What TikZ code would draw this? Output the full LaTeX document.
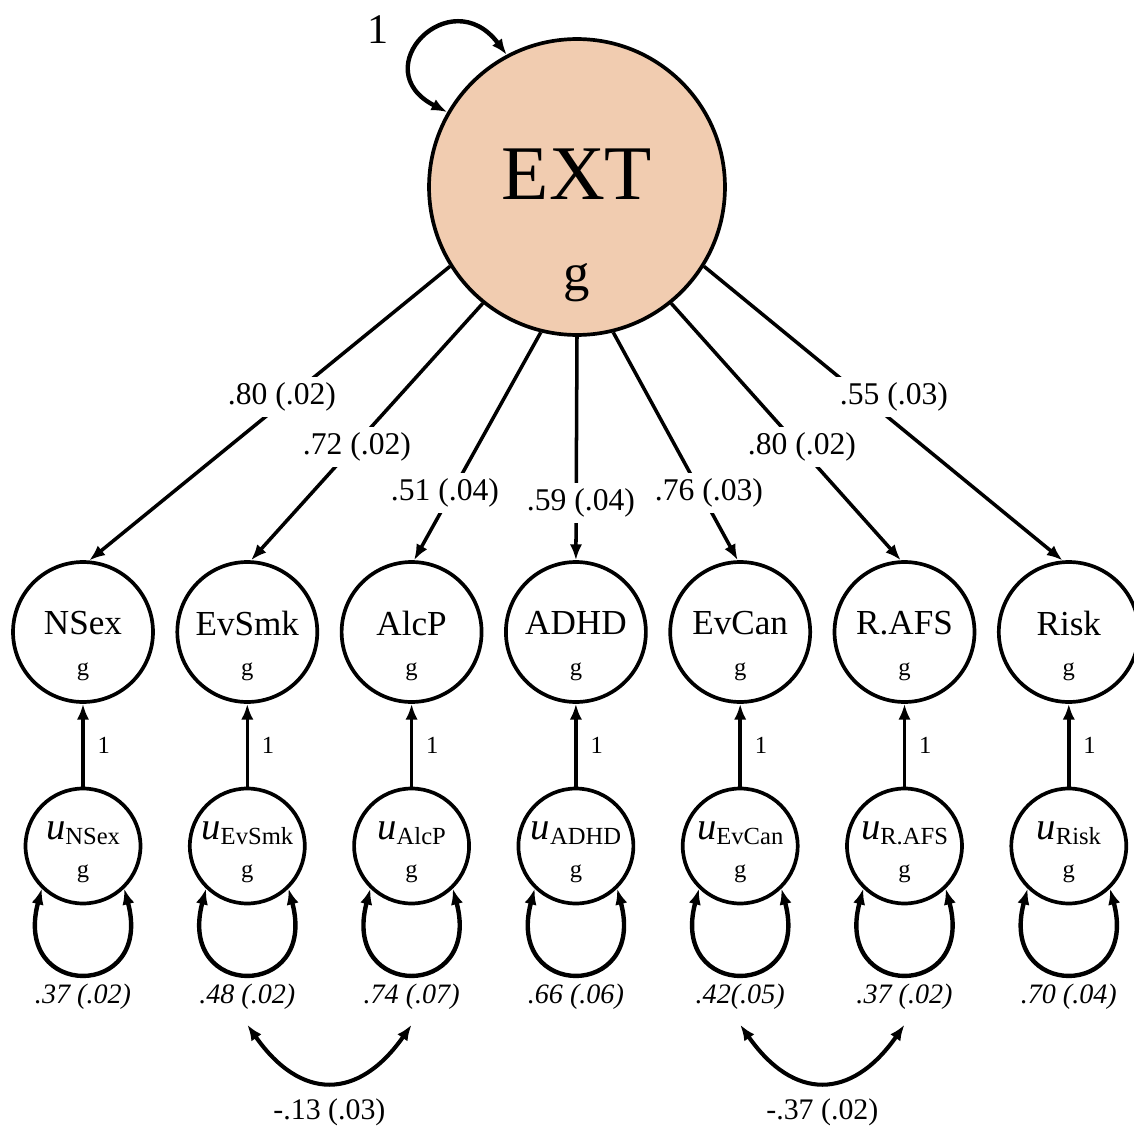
\documentclass[tikz,border=0pt]{standalone}
\usepackage{fontspec}
\setmainfont{Liberation Serif}
\usetikzlibrary{arrows.meta,calc}
\definecolor{extfill}{RGB}{241,204,176}
\newcommand{\fs}[1]{\fontsize{#1}{#1}\selectfont}
\newcommand{\resid}[1]{{\fs{22}\itshape u}{\fs{14}\raisebox{-3pt}{#1}}}

\begin{document}
\begin{tikzpicture}[x=0.02cm,y=0.02cm,
  latent/.style={circle,draw,line width=2.1pt,fill=extfill,minimum size=5.92cm,inner sep=0pt},
  obs/.style={circle,draw,line width=2.1pt,minimum size=2.8cm,inner sep=0pt},
  res/.style={circle,draw,line width=2.1pt,minimum size=2.3cm,inner sep=0pt},
  load/.style={line width=2pt,-{Latex[length=9pt,width=7pt]}},
  varloop/.style={line width=2.5pt,{Latex[length=9pt,width=7pt]}-{Latex[length=9pt,width=7pt]}},
  cov/.style={line width=2.3pt,{Latex[length=9pt,width=7pt]}-{Latex[length=9pt,width=7pt]}},
  loadlab/.style={fill=white,inner sep=3pt,font=\fs{18}},
  varlab/.style={font=\fs{16}\itshape}]
  \useasboundingbox (0,0) rectangle (1134,-1129);
  \fill[white] (0,0) rectangle (1134,-1129);

  \node[latent] (EXT) at (577,-187) {};
  \node[font=\fs{44}] (EXTname) at (577,-174) {EXT};
  \node[font=\fs{30}] (EXTg) at (577,-283) {g};
  \draw[varloop] (EXT.150) to[out=153,in=127,looseness=2.9] (EXT.118);
  \node[font=\fs{24}] (EXTone) at (378,-30) {1};

  \foreach \i/\n/\t in {1/NSex/NSex,2/EvSmk/EvSmk,3/AlcP/AlcP,4/ADHD/ADHD,5/EvCan/EvCan,6/RAFS/R.AFS,7/Risk/Risk}{
    \pgfmathsetmacro{\x}{83+164.3*(\i-1)}
    \node[obs] (\n) at (\x,-632) {};
    \node[font=\fs{20}] (\n-name) at (\x,-623) {\t};
    \node[font=\fs{14}] (\n-g) at (\x,-672) {g};
    \node[res] (u\n) at (\x,-846) {};
    \node (u\n-name) at (\x,-833) {\resid{\t}};
    \node[font=\fs{14}] (u\n-g) at (\x,-874) {g};
    \draw[load] (u\n) -- node[midway,right,xshift=4pt,font=\fs{14}] (one\n) {1} (\n);
    \draw[varloop] (u\n.226) to[out=-105,in=-75,looseness=3.6] (u\n.314);
  }

  \foreach \n/\a/\b in {NSex/212/85,EvSmk/231/87,AlcP/256/88,ADHD/270/90,EvCan/284/92,RAFS/309/93,Risk/328/95}{
    \draw[load] (EXT.\a) -- (\n.\b);
  }
  \foreach \n/\x/\y/\t in {NSex/282/-397/{.80 (.02)},EvSmk/357/-447/{.72 (.02)},AlcP/445/-493/{.51 (.04)},ADHD/581/-503/{.59 (.04)},EvCan/709/-493/{.76 (.03)},RAFS/802/-447/{.80 (.02)},Risk/894/-397/{.55 (.03)}}{
    \node[loadlab] (L\n) at (\x,\y) {\t};
  }

  \foreach \i/\n/\t in {1/NSex/{.37 (.02)},2/EvSmk/{.48 (.02)},3/AlcP/{.74 (.07)},4/ADHD/{.66 (.06)},5/EvCan/{.42(.05)},6/RAFS/{.37 (.02)},7/Risk/{.70 (.04)}}{
    \pgfmathsetmacro{\x}{83+164.3*(\i-1)}
    \node[varlab] (v\n) at (\x,-997) {\t};
  }

  \draw[cov] ([yshift=-5pt]vEvSmk.south) to[out=-55,in=-125,looseness=1.45]
    node[midway,below=5pt,font=\fs{17}] (cEvSmkAlcP) {-.13 (.03)} ([yshift=-5pt]vAlcP.south);
  \draw[cov] ([yshift=-5pt]vEvCan.south) to[out=-55,in=-125,looseness=1.45]
    node[midway,below=5pt,font=\fs{17}] (cEvCanRAFS) {-.37 (.02)} ([yshift=-5pt]vRAFS.south);
\end{tikzpicture}
\end{document}
